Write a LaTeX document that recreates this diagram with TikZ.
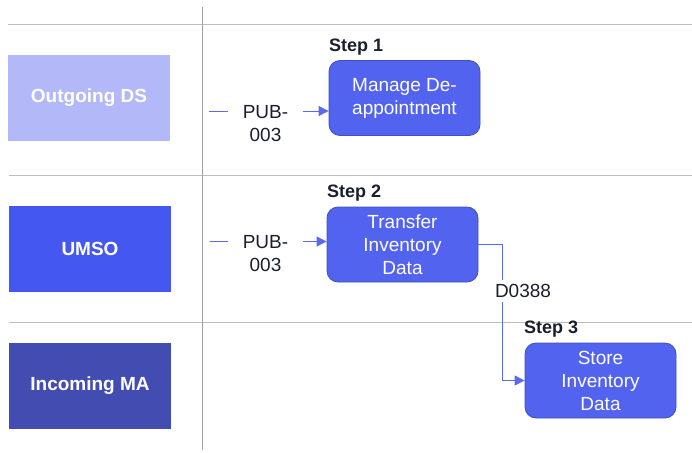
\documentclass[tikz,border=0pt]{standalone}
\usepackage{fontspec}
\setmainfont{Liberation Sans}
\usetikzlibrary{arrows.meta}
\definecolor{laneA}{HTML}{B2B8F8}
\definecolor{laneB}{HTML}{4457F0}
\definecolor{laneC}{HTML}{434DB1}
\definecolor{stepfill}{HTML}{5263EF}
\definecolor{stepdraw}{HTML}{3F4FC0}
\definecolor{flow}{HTML}{5A6AF0}
\definecolor{grid}{HTML}{BDBDBD}
\definecolor{txt}{HTML}{1A1F2E}
\begin{document}
\begin{tikzpicture}[x=1pt,y=-1pt,
  lane/.style={minimum width=162pt,minimum height=86pt,inner sep=0pt,text=white,font=\fontsize{19}{23}\selectfont\bfseries},
  stepbox/.style={rounded corners=11pt,fill=stepfill,draw=stepdraw,line width=0.8pt,minimum width=151pt,minimum height=75pt,inner sep=0pt,text=white,align=center,font=\fontsize{19}{23}\selectfont},
  steplbl/.style={text=txt,font=\fontsize{18}{22}\selectfont\bfseries,inner sep=0pt,anchor=west},
  lbl/.style={text=txt,font=\fontsize{19}{23}\selectfont,align=center,inner ysep=2pt,inner xsep=0pt,minimum width=75pt,fill=white},
  gridline/.style={draw=grid,line width=1pt},
  conn/.style={draw=flow,line width=0.9pt,-{Triangle[length=10pt,width=10pt]}},
  connplain/.style={draw=flow,line width=0.9pt}]
\useasboundingbox (0,0) rectangle (692,452);
% grid
\draw[gridline] (8,25) -- (692,25);
\draw[gridline] (9,175) -- (692,175);
\draw[gridline] (9,322) -- (692,322);
\draw[gridline,draw=grid!85!black] (202,7) -- (202,450);
% lanes
\node[lane,fill=laneA] (l1) at (89,98) {Outgoing DS};
\node[lane,fill=laneB] (l2) at (90,248.5) {UMSO};
\node[lane,fill=laneC] (l3) at (90,385.5) {Incoming MA};
% steps
\node[stepbox] (st1) at (404.5,98) {Manage De-\\appointment};
\node[stepbox] (st2) at (402.5,244.5) {Transfer\\Inventory\\Data};
\node[stepbox] (st3) at (600.5,380.5) {Store\\Inventory\\Data};
\node[steplbl] (sl1) at (329,47) {Step 1};
\node[steplbl] (sl2) at (327,193) {Step 2};
\node[steplbl] (sl3) at (524,329) {Step 3};
% row 1 connector
\coordinate (s1) at (209,111);
\node[lbl] (p1) at (265.5,123.5) {PUB-\\003};
\draw[connplain] (s1) -- (s1 -| p1.west);
\draw[conn] (p1.east |- s1) -- (st1.west |- s1);
% row 2 connector
\coordinate (s2) at (210,241.5);
\node[lbl] (p2) at (265.5,254) {PUB-\\003};
\draw[connplain] (s2) -- (s2 -| p2.west);
\draw[conn] (p2.east |- s2) -- (st2.west |- s2);
% D0388
\coordinate (bend) at (502,244.5);
\draw[conn] (st2.east) -- (bend) |- (st3.west);
\node[text=txt,font=\fontsize{19}{23}\selectfont,fill=white,inner xsep=1pt,inner ysep=4pt] (d1) at (523,291) {D0388};
\end{tikzpicture}
\end{document}
